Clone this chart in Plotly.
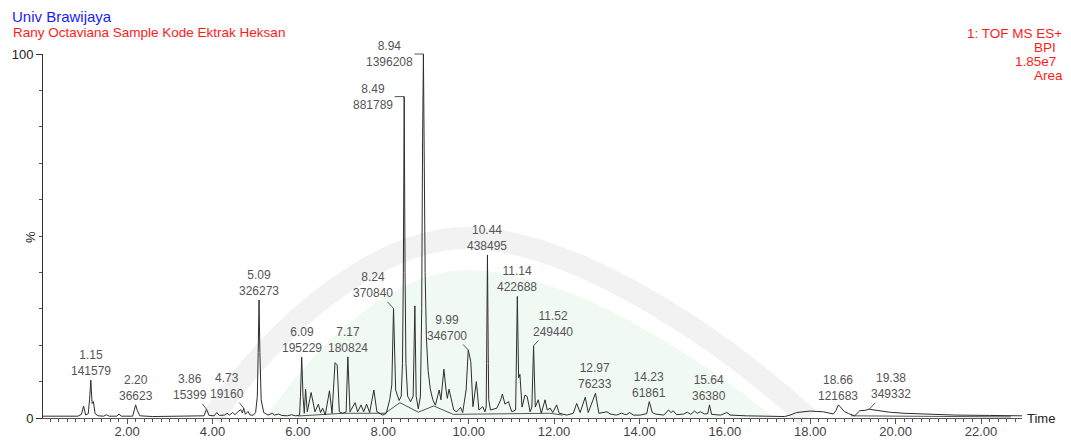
import plotly.graph_objects as go

# ---------------- data ----------------
# retention time (min) and relative intensity (%) of the BPI trace vertices
trace_rt = [
    0.03, 0.50, 0.85, 0.93, 0.98, 1.03, 1.09, 1.12, 1.15, 1.18, 1.21, 1.25, 1.32, 1.45, 1.52, 1.58,
    1.76, 1.81, 1.86, 2.13, 2.17, 2.20, 2.24, 2.30, 2.60, 3.10, 3.50, 3.80, 3.86, 3.92, 4.04, 4.10,
    4.16, 4.28, 4.34, 4.40, 4.47, 4.53, 4.60, 4.66, 4.70, 4.73, 4.77, 4.83, 4.88, 4.96, 5.01, 5.05,
    5.07, 5.09, 5.11, 5.14, 5.20, 5.30, 5.40, 5.45, 5.55, 5.62, 5.75, 5.85, 5.95, 6.04, 6.06, 6.09,
    6.12, 6.15, 6.18, 6.22, 6.31, 6.40, 6.48, 6.53, 6.58, 6.64, 6.74, 6.80, 6.87, 6.92, 6.97, 7.05,
    7.13, 7.17, 7.22, 7.34, 7.40, 7.48, 7.54, 7.61, 7.68, 7.78, 7.85, 7.99, 8.07, 8.15, 8.20, 8.24,
    8.29, 8.37, 8.42, 8.45, 8.47, 8.49, 8.51, 8.53, 8.57, 8.64, 8.70, 8.74, 8.77, 8.82, 8.87, 8.90,
    8.92, 8.94, 8.96, 8.98, 9.01, 9.05, 9.10, 9.16, 9.22, 9.31, 9.35, 9.42, 9.47, 9.50, 9.54, 9.60,
    9.65, 9.72, 9.81, 9.86, 9.94, 9.99, 10.05, 10.10, 10.18, 10.24, 10.33, 10.38, 10.41, 10.42, 10.44, 10.46,
    10.47, 10.51, 10.66, 10.75, 10.79, 10.85, 10.93, 11.01, 11.10, 11.14, 11.17, 11.20, 11.25, 11.32, 11.37, 11.44,
    11.48, 11.52, 11.56, 11.63, 11.70, 11.79, 11.84, 11.91, 11.97, 12.06, 12.12, 12.30, 12.45, 12.53, 12.61, 12.73,
    12.80, 12.97, 13.05, 13.24, 13.31, 13.46, 13.58, 13.69, 13.77, 13.86, 14.02, 14.17, 14.23, 14.30, 14.37, 14.57,
    14.68, 14.74, 14.79, 14.87, 15.04, 15.12, 15.20, 15.29, 15.35, 15.43, 15.53, 15.60, 15.64, 15.69, 15.90, 16.05,
    16.12, 16.50, 17.00, 17.40, 17.53, 17.68, 18.00, 18.31, 18.54, 18.60, 18.66, 18.72, 18.80, 18.90, 19.04, 19.16,
    19.28, 19.38, 19.60, 19.85, 20.20, 20.65, 21.40, 22.20, 22.96,
]
trace_pct = [
    0.5, 0.5, 0.5, 1.0, 3.3, 0.8, 1.2, 5.0, 10.4, 4.0, 4.5, 1.2, 0.6, 0.5, 0.9, 0.5,
    0.5, 1.1, 0.5, 0.5, 2.0, 3.6, 2.0, 0.6, 0.4, 0.5, 0.4, 0.6, 2.4, 0.7, 0.6, 1.5,
    0.7, 0.8, 1.3, 0.8, 1.5, 0.9, 1.8, 2.3, 1.4, 2.7, 1.0, 1.8, 0.8, 0.8, 1.5, 6.0,
    18.0, 32.4, 18.0, 5.0, 1.5, 0.8, 1.3, 0.8, 1.1, 0.7, 0.6, 0.9, 0.6, 0.8, 6.0, 16.7,
    6.0, 1.3, 7.9, 1.7, 7.0, 1.7, 3.8, 1.5, 2.7, 0.8, 7.5, 1.3, 15.2, 14.6, 1.7, 1.3,
    1.7, 16.8, 1.7, 4.2, 1.7, 3.6, 1.7, 3.8, 1.5, 7.7, 1.7, 0.8, 1.3, 5.0, 9.1, 30.1,
    7.7, 4.8, 6.0, 15.0, 40.0, 88.3, 40.0, 15.0, 6.0, 4.5, 6.0, 30.8, 6.0, 2.5, 6.0, 30.0,
    75.0, 100.0, 70.0, 40.0, 22.0, 13.0, 8.0, 5.0, 3.5, 7.7, 5.0, 13.4, 7.7, 5.4, 7.9, 5.0,
    2.2, 1.7, 2.9, 1.5, 7.7, 18.7, 15.5, 3.1, 10.0, 2.2, 3.1, 1.7, 3.0, 15.0, 44.8, 15.0,
    5.0, 2.2, 2.7, 5.0, 6.6, 3.8, 4.5, 1.7, 2.2, 33.4, 11.0, 12.0, 3.0, 6.3, 5.9, 1.7,
    3.0, 19.8, 3.0, 5.0, 1.3, 5.0, 2.2, 2.7, 1.5, 3.6, 1.3, 0.8, 1.3, 4.0, 1.5, 5.7,
    1.5, 6.8, 1.3, 1.7, 1.1, 0.8, 1.3, 0.9, 1.5, 0.8, 0.8, 1.2, 4.5, 1.5, 1.1, 0.8,
    2.2, 1.5, 2.0, 0.9, 1.1, 1.6, 1.0, 1.9, 1.3, 1.7, 1.1, 1.2, 3.6, 1.0, 0.8, 1.5,
    0.8, 0.6, 0.4, 0.4, 0.8, 1.5, 1.9, 1.7, 1.1, 2.0, 3.6, 2.8, 1.8, 1.2, 0.6, 2.0,
    2.1, 2.4, 2.0, 1.6, 1.3, 1.1, 0.8, 0.7, 0.6,
]

# integration baselines drawn under the peaks (None separates segments)
base_rt = [6.00, 7.07, 8.04, 8.39, 8.82, 9.18, 9.64, 10.66, 11.90, 12.20, None, 18.95, 22.70]
base_pct = [0.55, 1.3, 1.3, 4.2, 1.6, 3.3, 1.0, 1.1, 1.3, 0.8, None, 0.6, 0.3]

# labelled peaks: retention time, apex %, area
label_rt = [1.15, 2.20, 3.86, 4.73, 5.09, 6.09, 7.17, 8.24, 8.49, 8.94,
            9.99, 10.44, 11.14, 11.52, 12.97, 14.23, 15.64, 18.66, 19.38]
label_pct = [10.4, 3.6, 2.4, 2.7, 32.4, 16.7, 16.8, 30.1, 88.3, 100.0,
             18.7, 44.8, 33.4, 19.8, 6.8, 4.5, 3.6, 3.6, 2.4]
label_area = [141579, 36623, 15399, 19160, 326273, 195229, 180824, 370840, 881789, 1396208,
              346700, 438495, 422688, 249440, 76233, 61861, 36380, 121683, 349332]

header_left = ["Univ Brawijaya", "Rany Octaviana Sample Kode Ektrak Heksan"]
header_right = ["1: TOF MS ES+", "BPI", "1.85e7", "Area"]

# ---------------- styling ----------------
FONT = "Liberation Sans, Arial, sans-serif"
W, H = 1071, 441
L, R, T, B = 43, 49, 54, 23
PW, PH = W - L - R, H - T - B

# leader-line offsets (pixels) for labels that are not centred above their peak
LEADERS = {3.86: (-17, -22), 4.73: (-17, -22), 8.24: (-21, -23), 8.49: (-31, 0),
           8.94: (-34, 0), 9.99: (-21, -22), 11.52: (19, -22), 19.38: (22, -23)}


def px(x, y):
    return (x - L) / PW, (H - B - y) / PH


def path(points, close=False):
    segs = []
    for p in points:
        if isinstance(p, str):
            segs.append(p)
        else:
            xx, yy = px(*p)
            segs.append(f"{xx:.4f},{yy:.4f}")
    s = "M " + " ".join(segs)
    return s + (" Z" if close else "")


fig = go.Figure()

fig.add_trace(go.Scatter(x=base_rt, y=base_pct, mode="lines",
                         line=dict(color="#555555", width=1), hoverinfo="skip",
                         showlegend=False))
fig.add_trace(go.Scatter(x=trace_rt, y=trace_pct, mode="lines",
                         line=dict(color="#2e2e2e", width=1), showlegend=False))

ann = []
for rt, pc, ar in zip(label_rt, label_pct, label_area):
    txt = f"{rt:.2f}<br>{ar}"
    if rt in LEADERS:
        ax, ay = LEADERS[rt]
        ann.append(dict(x=rt, y=pc, xref="x", yref="y", text=txt, showarrow=True,
                        arrowhead=0, arrowwidth=1, arrowcolor="#555555", standoff=0,
                        ax=ax, ay=ay, font=dict(family=FONT, size=12, color="#555555")))
    else:
        ann.append(dict(x=rt, y=pc, xref="x", yref="y", text=txt, showarrow=False,
                        xanchor="center", yanchor="bottom",
                        font=dict(family=FONT, size=12, color="#555555")))

# headers
x0, y0 = px(10, 17)
ann.append(dict(x=x0, y=y0, xref="paper", yref="paper", text=header_left[0], showarrow=False,
                xanchor="left", yanchor="middle", font=dict(family=FONT, size=15, color="#1a1aff")))
x0, y0 = px(11, 33)
ann.append(dict(x=x0, y=y0, xref="paper", yref="paper", text=header_left[1], showarrow=False,
                xanchor="left", yanchor="middle", font=dict(family=FONT, size=13.5, color="#ff1a1a")))
for txt, (xr, yr) in zip(header_right, [(1064, 34), (1058, 47.5), (1058, 61.5), (1065, 75.5)]):
    x0, y0 = px(xr, yr)
    ann.append(dict(x=x0, y=y0, xref="paper", yref="paper", text=txt, showarrow=False,
                    xanchor="right", yanchor="middle", font=dict(family=FONT, size=13.5, color="#ff1a1a")))

# axis captions
x0, y0 = px(30, 237)
ann.append(dict(x=x0, y=y0, xref="paper", yref="paper", text="%", showarrow=False, textangle=-90,
                xanchor="center", yanchor="middle", font=dict(family=FONT, size=13, color="#222222")))
x0, y0 = px(1025, 418)
ann.append(dict(x=x0, y=y0, xref="paper", yref="paper", text="Time", showarrow=False,
                xanchor="left", yanchor="middle", font=dict(family=FONT, size=13, color="#222222")))

# faint university watermark behind the plot
shapes = [
    dict(type="path", xref="paper", yref="paper", layer="below",
         path=path([(265, 418), "C", (325, 332), (400, 270), (467, 270), "C", (562, 270), (682, 345), (775, 418)], close=True),
         fillcolor="rgba(210,235,215,0.30)", line=dict(width=0)),
    dict(type="path", xref="paper", yref="paper", layer="below",
         path=path([(212, 418), "C", (288, 308), (388, 238), (467, 238), "C", (562, 238), (702, 322), (808, 418)]),
         line=dict(color="rgba(170,170,170,0.15)", width=22)),
]

fig.update_layout(
    width=W, height=H,
    margin=dict(l=L, r=R, t=T, b=B, autoexpand=False),
    paper_bgcolor="white", plot_bgcolor="white",
    font=dict(family=FONT),
    annotations=ann, shapes=shapes,
    xaxis=dict(range=[0.03, 22.96], showgrid=False, zeroline=False, showline=True,
               linecolor="#555555", linewidth=1, ticks="outside", ticklen=5, tickcolor="#555555",
               tick0=0, dtick=2, tickformat=".2f", ticklabelstandoff=-4,
               tickfont=dict(family=FONT, size=13, color="#444444"),
               minor=dict(tick0=0, dtick=0.2, ticks="outside", ticklen=3, tickcolor="#555555")),
    yaxis=dict(range=[0, 100], showgrid=False, zeroline=False, showline=True,
               linecolor="#333333", linewidth=1, ticks="outside", ticklen=6, tickcolor="#333333",
               tickmode="array", tickvals=[0, 100], ticktext=["0", "100"],
               tickfont=dict(family=FONT, size=13, color="#222222"),
               minor=dict(tickmode="linear", tick0=0, dtick=10, ticks="outside", ticklen=3,
                          tickcolor="#555555")),
)

fig.write_html("out.html", config={"displayModeBar": False},
               post_script="document.body.style.margin='0px';")
